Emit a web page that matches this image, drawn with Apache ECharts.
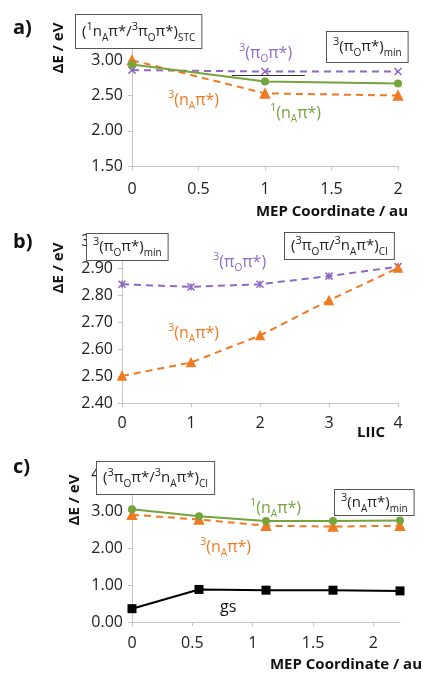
<!doctype html>
<html>
    <head>
        <meta charset="utf-8">
        <title>MEP / LIIC energies</title>
        <style>
            html, body { margin: 0; padding: 0; background: #fff; }
            #main { width: 423px; height: 674px; }
        </style>
    </head>
    <body>
        <div id="main"></div>
        <script src="https://cdn.jsdelivr.net/npm/echarts@6/dist/echarts.min.js"></script>
        <script>

            // panel a) MEP from the STC
            var aX = [0, 1, 2];
            var aPiPi = [2.86, 2.84, 2.84];
            var aS1nPi = [2.94, 2.70, 2.67];
            var aT1nPi = [3.00, 2.53, 2.50];

            // panel b) LIIC
            var bX = [0, 1, 2, 3, 4];
            var bPiPi = [2.84, 2.83, 2.84, 2.87, 2.905];
            var bT1nPi = [2.50, 2.55, 2.65, 2.78, 2.90];

            // panel c) MEP from the CI
            var cX = [0, 0.555, 1.11, 1.665, 2.22];
            var cS1nPi = [3.05, 2.86, 2.73, 2.73, 2.74];
            var cT1nPi = [2.90, 2.77, 2.60, 2.58, 2.60];
            var cGs = [0.36, 0.88, 0.86, 0.86, 0.84];

            var purple = '#8e6bc2';
            var orange = '#f07a22';
            var green = '#77a33c';
            var font = "'Open Sans', sans-serif";

            function pts(xs, ys) {
                return xs.map(function (x, i) { return [x, ys[i]]; });
            }

            var crossPath = 'path://M0,0L10,10M10,0L0,10';
            var starPath = 'path://M0,0L10,10M10,0L0,10M5,0L5,10';

            function dashed(name, idx, data, color, symbol, size) {
                return {
                    name: name, type: 'line', xAxisIndex: idx, yAxisIndex: idx,
                    data: data, symbol: symbol, symbolSize: size,
                    lineStyle: { color: color, width: 2, type: [7, 5] },
                    itemStyle: { color: color, borderColor: color, borderWidth: 1.5 },
                    z: 3
                };
            }
            function solid(name, idx, data, color, symbol, size) {
                return {
                    name: name, type: 'line', xAxisIndex: idx, yAxisIndex: idx,
                    data: data, symbol: symbol, symbolSize: size,
                    lineStyle: { color: color, width: 2 },
                    itemStyle: { color: color },
                    z: 4
                };
            }

            function makeRich(size) {
                return {
                    b: { fontSize: size, fontFamily: font, lineHeight: 22 },
                    sup: { fontSize: 11, fontFamily: font, lineHeight: 11, verticalAlign: 'top' },
                    sub: { fontSize: 10, fontFamily: font, lineHeight: 10, verticalAlign: 'bottom' }
                };
            }

            function richText(str, x, y, color) {
                return {
                    type: 'text', x: x, y: y, z: 100,
                    style: {
                        text: str, fill: color, fontSize: 16, fontFamily: font, lineHeight: 22,
                        align: 'left', verticalAlign: 'middle', rich: makeRich(16)
                    }
                };
            }
            function box(str, x, y, pad) {
                return {
                    type: 'text', x: x, y: y, z: 100,
                    style: {
                        text: str, fill: '#222', fontSize: 15, fontFamily: font, lineHeight: 22,
                        align: 'left', verticalAlign: 'top', rich: makeRich(15),
                        backgroundColor: '#fff', borderColor: '#555', borderWidth: 1,
                        padding: pad
                    }
                };
            }
            function bold(str, x, y, size, align, rot) {
                return {
                    type: 'text', x: x, y: y, z: 100, rotation: rot || 0,
                    style: {
                        text: str, fill: '#111', fontSize: size, fontWeight: 'bold', fontFamily: font,
                        align: align, verticalAlign: 'middle'
                    }
                };
            }

            function xAxis(idx, max, interval, margin, showMax) {
                return {
                    gridIndex: idx, type: 'value', min: 0, max: max, interval: interval,
                    axisLine: { lineStyle: { color: '#c4c4c4', width: 1 } },
                    axisTick: { show: true, length: 4, lineStyle: { color: '#c4c4c4' } },
                    splitLine: { show: false },
                    axisLabel: { color: '#222', fontSize: 16, fontFamily: font, margin: margin, showMaxLabel: showMax }
                };
            }
            function yAxis(idx, min, max, interval) {
                return {
                    gridIndex: idx, type: 'value', min: min, max: max, interval: interval,
                    axisLine: { show: true, lineStyle: { color: '#c4c4c4', width: 1 } },
                    axisTick: { show: true, length: 4, lineStyle: { color: '#c4c4c4' } },
                    splitLine: { show: false },
                    axisLabel: {
                        color: '#222', fontSize: 16, fontFamily: font, margin: 9,
                        formatter: function (v) { return v.toFixed(2); }
                    }
                };
            }

            var myChart = echarts.init(document.getElementById('main'));

            myChart.setOption({
                backgroundColor: '#fff',
                animation: false,
                grid: [
                    { left: 132, top: 25, width: 266, height: 141 },
                    { left: 122, top: 241, width: 276, height: 162 },
                    { left: 132, top: 474, width: 268, height: 148 }
                ],
                xAxis: [
                    xAxis(0, 2, 0.5, 15, true),
                    xAxis(1, 4, 1, 12, true),
                    xAxis(2, 2.22, 0.5, 13, false)
                ],
                yAxis: [
                    yAxis(0, 1.5, 3.5, 0.5),
                    yAxis(1, 2.4, 3.0, 0.1),
                    yAxis(2, 0, 4, 1)
                ],
                series: [
                    (function () {
                        var s = dashed('3(πOπ*)', 0, pts(aX, aPiPi), purple, crossPath, 7);
                        s.markLine = {
                            silent: true, symbol: ['none', 'arrow'], symbolSize: [0, 7],
                            label: { show: false },
                            lineStyle: { color: '#333', width: 1, type: 'solid' },
                            data: [[{ coord: [0.75, 2.785] }, { coord: [1.3, 2.785] }]]
                        };
                        return s;
                    })(),
                    solid('1(nAπ*)', 0, pts(aX, aS1nPi), green, 'circle', 8),
                    dashed('3(nAπ*)', 0, pts(aX, aT1nPi), orange, 'triangle', 9),

                    dashed('3(πOπ*)', 1, pts(bX, bPiPi), purple, starPath, 7),
                    dashed('3(nAπ*)', 1, pts(bX, bT1nPi), orange, 'triangle', 8),

                    solid('1(nAπ*)', 2, pts(cX, cS1nPi), green, 'circle', 8),
                    dashed('3(nAπ*)', 2, pts(cX, cT1nPi), orange, 'triangle', 9),
                    solid('gs', 2, pts(cX, cGs), '#000', 'rect', 9)
                ],
                graphic: [
                    // panel a
                    bold('a)', 13, 28, 20, 'left'),
                    bold('ΔE / eV', 59, 48, 15, 'center', Math.PI / 2),
                    bold('MEP Coordinate / au', 408, 212, 15, 'right'),
                    box('({sup|1}n{sub|A}π*/{sup|3}π{sub|O}π*){sub|STC}', 76, 15, [6, 6, 5, 6]),
                    box('{sup|3}(π{sub|O}π*){sub|min}', 327, 32, [4, 6, 4, 6]),
                    richText('{sup|3}(π{sub|O}π*)', 239, 53, purple),
                    richText('{sup|3}(n{sub|A}π*)', 168, 100, orange),
                    richText('{sup|1}(n{sub|A}π*)', 270, 113, green),

                    // panel b
                    bold('b)', 13, 242, 20, 'left'),
                    bold('ΔE / eV', 59, 268, 15, 'center', Math.PI / 2),
                    bold('LIIC', 357, 433, 15, 'left'),
                    box('{sup|3}(π{sub|O}π*){sub|min}', 87, 234, [2, 6, 2, 6]),
                    box('({sup|3}π{sub|O}π/{sup|3}n{sub|A}π*){sub|CI}', 285, 233, [2, 6, 2, 6]),
                    richText('{sup|3}(π{sub|O}π*)', 213, 262, purple),
                    richText('{sup|3}(n{sub|A}π*)', 168, 333, orange),

                    // panel c
                    bold('c)', 13, 467, 20, 'left'),
                    bold('ΔE / eV', 75, 500, 15, 'center', Math.PI / 2),
                    bold('MEP Coordinate / au', 422, 665, 15, 'right'),
                    box('({sup|3}π{sub|O}π*/{sup|3}n{sub|A}π*){sub|CI}', 97, 462, [5, 6, 5, 6]),
                    box('{sup|3}(n{sub|A}π*){sub|min}', 335, 490, [2, 6, 1, 6]),
                    richText('{sup|1}(n{sub|A}π*)', 250, 508, green),
                    richText('{sup|3}(n{sub|A}π*)', 200, 547, orange),
                    richText('gs', 220, 607, '#111')
                ]
            });

        </script>
    </body>
</html>
